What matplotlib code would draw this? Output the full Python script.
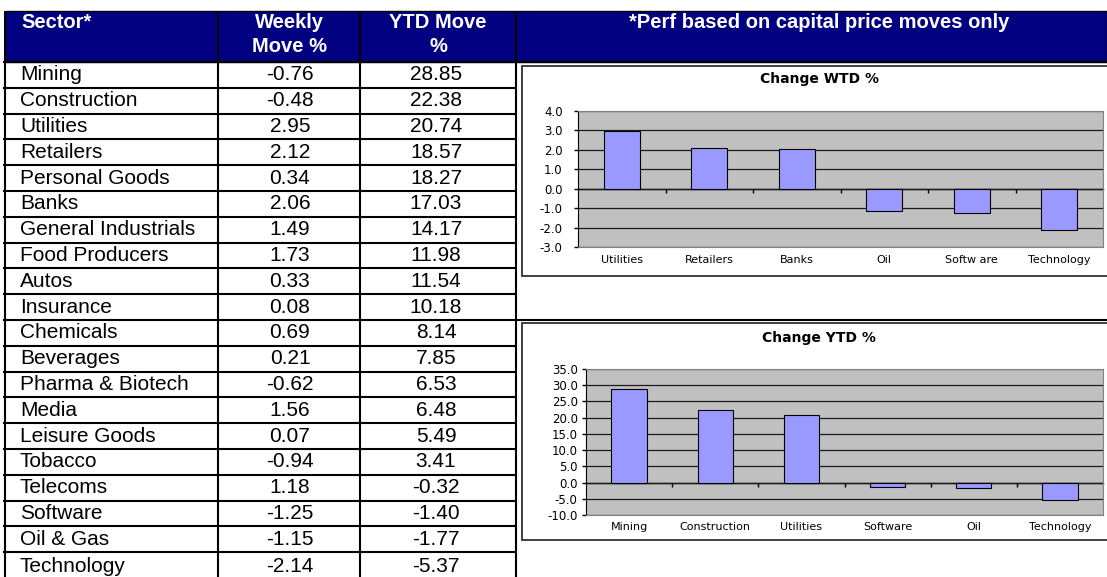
import matplotlib.pyplot as plt
from matplotlib.patches import Rectangle
import numpy as np

# table data
sectors = ['Mining', 'Construction', 'Utilities', 'Retailers', 'Personal Goods', 'Banks',
           'General Industrials', 'Food Producers', 'Autos', 'Insurance', 'Chemicals',
           'Beverages', 'Pharma & Biotech', 'Media', 'Leisure Goods', 'Tobacco',
           'Telecoms', 'Software', 'Oil & Gas', 'Technology']
weekly = [-0.76, -0.48, 2.95, 2.12, 0.34, 2.06, 1.49, 1.73, 0.33, 0.08,
          0.69, 0.21, -0.62, 1.56, 0.07, -0.94, 1.18, -1.25, -1.15, -2.14]
ytd = [28.85, 22.38, 20.74, 18.57, 18.27, 17.03, 14.17, 11.98, 11.54, 10.18,
       8.14, 7.85, 6.53, 6.48, 5.49, 3.41, -0.32, -1.40, -1.77, -5.37]

# chart data
wtd_cats = ['Utilities', 'Retailers', 'Banks', 'Oil', 'Softw are', 'Technology']
wtd_vals = [2.95, 2.12, 2.06, -1.15, -1.25, -2.14]
ytd_cats = ['Mining', 'Construction', 'Utilities', 'Software', 'Oil', 'Technology']
ytd_vals = [28.85, 22.38, 20.74, -1.40, -1.77, -5.37]

W, H = 1107, 577
navy = '#000080'
tfont = 'Liberation Sans'
cfont = 'DejaVu Sans'

fig = plt.figure(figsize=(W / 100, H / 100), dpi=100)
ax0 = fig.add_axes([0, 0, 1, 1])
ax0.set_xlim(0, W)
ax0.set_ylim(H, 0)
ax0.axis('off')

# header band
ax0.add_patch(Rectangle((5, 11), W - 5, 51, facecolor=navy, edgecolor='black', lw=1))
hdr = dict(color='white', fontsize=14.5, fontweight='bold', family=tfont, va='center')
ax0.text(21, 23, 'Sector*', ha='left', **hdr)
ax0.text(289, 23, 'Weekly', ha='center', **hdr)
ax0.text(289, 47, 'Move %', ha='center', **hdr)
ax0.text(438, 23, 'YTD Move', ha='center', **hdr)
ax0.text(438, 47, '%', ha='center', **hdr)
ax0.text(819, 23, '*Perf based on capital price moves only', ha='center', **hdr)

# table body
top, rh = 62, 25.8
for i, (s, w, y) in enumerate(zip(sectors, weekly, ytd)):
    yc = top + rh * (i + 0.5)
    if i == len(sectors) - 1:
        yc = top + rh * i + 14
    ax0.text(20, yc, s, fontsize=15, family=tfont, ha='left', va='center')
    ax0.text(290, yc, f'{w:.2f}', fontsize=15, family=tfont, ha='center', va='center')
    ax0.text(436, yc, f'{y:.2f}', fontsize=15, family=tfont, ha='center', va='center')

for k in range(len(sectors)):
    yl = top + rh * k
    x_end = W if k in (0, 10) else 516
    ax0.plot([3, x_end], [yl, yl], color='black', lw=1.5, solid_capstyle='butt')
for xv in [5, 218, 360, 516]:
    ax0.plot([xv, xv], [11, H], color='black', lw=1.5, solid_capstyle='butt')


def bar_chart(box, plot, cats, vals, ticks, title, title_y, ypad, xpad):
    bx0, by0, bx1, by1 = box
    ax0.add_patch(Rectangle((bx0, by0), bx1 - bx0, by1 - by0, facecolor='white',
                            edgecolor='#303030', lw=1.3, zorder=3))
    ax0.text(819, title_y, title, fontsize=10, fontweight='bold', family=cfont,
             ha='center', va='center', zorder=4)
    x0, y0, x1, y1 = plot
    ax = fig.add_axes([x0 / W, 1 - y1 / H, (x1 - x0) / W, (y1 - y0) / H])
    ax.set_facecolor('#C0C0C0')
    pos = np.arange(len(cats))
    ax.bar(pos, vals, width=0.41, color='#9999FF', edgecolor='black', lw=0.8, zorder=3)
    ax.set_xlim(-0.5, len(cats) - 0.5)
    ax.set_ylim(ticks[0], ticks[-1])
    ax.set_yticks(ticks)
    ax.set_yticklabels([f'{t + 0.0:.1f}' for t in ticks], family=cfont, fontsize=8.5)
    ax.set_xticks(pos)
    ax.set_xticklabels(cats, family=cfont, fontsize=8)
    ax.tick_params(axis='x', length=0, pad=xpad)
    ax.tick_params(axis='y', length=3, width=1, direction='out', pad=ypad)
    ax.grid(axis='y', color='#1a1a1a', lw=0.9, zorder=1)
    for side in ['top', 'right', 'bottom']:
        ax.spines[side].set_color('#808080')
    ax.spines['left'].set_color('black')
    # category axis crossing at zero
    zfrac = (0 - ticks[0]) / (ticks[-1] - ticks[0])
    sec = ax.secondary_xaxis(zfrac)
    sec.set_xticks(pos[:-1] + 0.5)
    sec.tick_params(length=3, width=1, direction='out', labelbottom=False, labeltop=False)
    sec.spines['bottom'].set_color('black')
    sec.spines['bottom'].set_linewidth(1)
    return ax


bar_chart((522, 66, 1112, 276), (578, 111, 1103, 247), wtd_cats, wtd_vals,
          np.linspace(-3, 4, 8), 'Change WTD %', 79, 8, 6)
bar_chart((522, 323, 1112, 540), (586, 369, 1103, 515), ytd_cats, ytd_vals,
          np.linspace(-10, 35, 10), 'Change YTD %', 338, 3, 5)

fig.savefig('out.png', dpi=100)
